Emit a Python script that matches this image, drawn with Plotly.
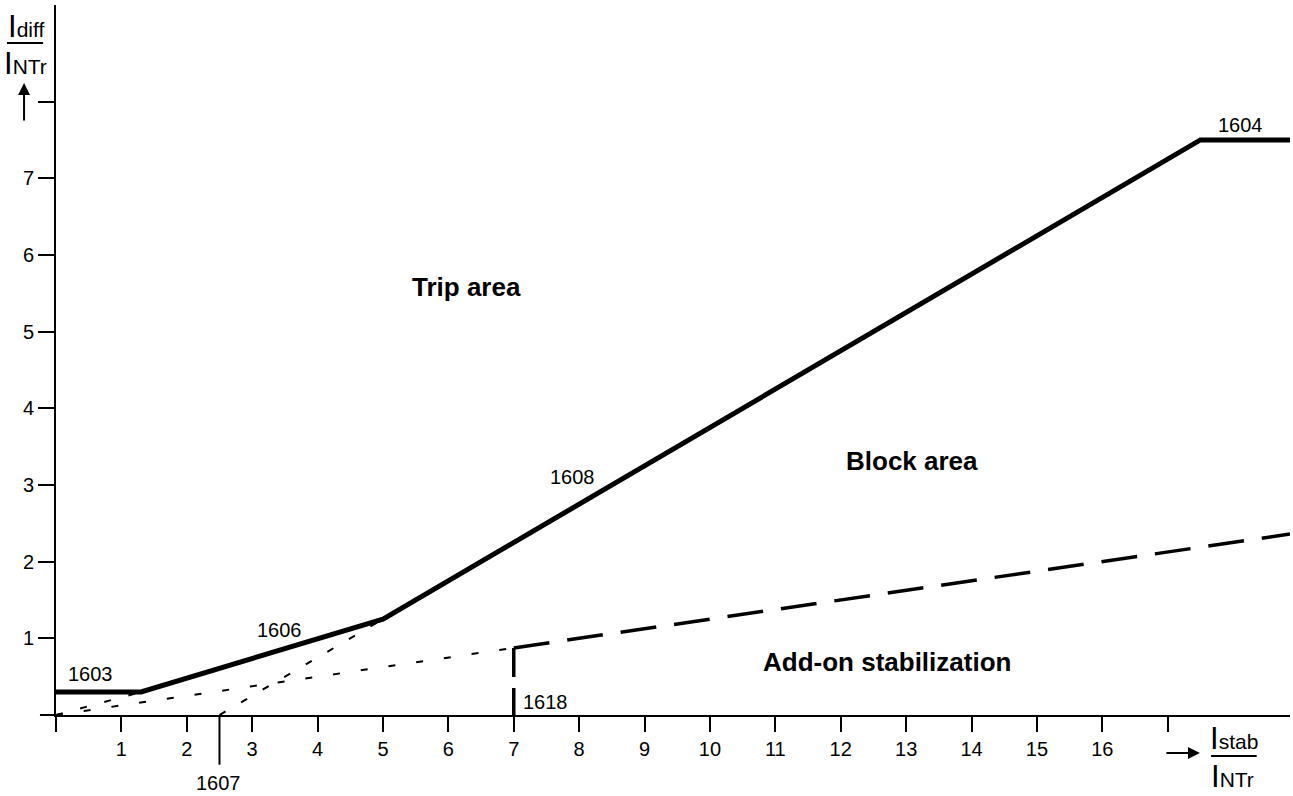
import plotly.graph_objects as go

FONT = "Liberation Sans, Arial, Helvetica, sans-serif"

# axis extents
X_MAX = 18.87
Y_MAX = 9.26

# tick positions and labels
x_tickvals = list(range(0, 18))
x_ticktext = [""] + [str(v) for v in range(1, 17)] + [""]
y_tickvals = list(range(1, 9))
y_ticktext = [str(v) for v in range(1, 8)] + [""]

# tripping characteristic: 1603 -> 1606 -> 1608 -> 1604
char_x = [0, 1.3, 5.0, 17.5, X_MAX]
char_y = [0.3, 0.3, 1.25, 7.5, 7.5]

# dotted construction lines (slope extensions)
slope1_x = [0, 1.3]
slope1_y = [0, 0.3]
slope2_x = [2.5, 5.0]
slope2_y = [0, 1.25]
addon_ext_x = [0, 7.0]
addon_ext_y = [0, 0.875]

# add-on stabilization
addon_x = [7.0, X_MAX]
addon_y = [0.875, 2.36]
addon_limit_x = [7.0, 7.0]
addon_limit_y = [0.875, 0]

BASE_POINT_2 = 2.5  # 1607

# text labels inside the plot: text, x, y, bold
labels = [
    ("1603", 0.52, 0.53, False),
    ("1606", 3.41, 1.11, False),
    ("1608", 7.9, 3.1, False),
    ("1604", 18.12, 7.69, False),
    ("1618", 7.48, 0.17, False),
    ("Trip area", 6.28, 5.58, True),
    ("Block area", 13.09, 3.31, True),
    ("Add-on stabilization", 12.7, 0.69, True),
]

fig = go.Figure()


def add_line(xs, ys, width, dash="solid"):
    fig.add_trace(
        go.Scatter(
            x=xs,
            y=ys,
            mode="lines",
            line=dict(color="black", width=width, dash=dash),
            hoverinfo="skip",
            showlegend=False,
        )
    )


add_line(slope1_x, slope1_y, 2, "7px,18px")
add_line(slope2_x, slope2_y, 2, "7px,18px")
add_line(addon_ext_x, addon_ext_y, 2, "7px,21px")
add_line(addon_x, addon_y, 3.5, "36px,18px")
add_line(addon_limit_x, addon_limit_y, 3.5, "29px,11px")
add_line(char_x, char_y, 5)

annotations = []
for text, x, y, bold in labels:
    annotations.append(
        dict(
            x=x,
            y=y,
            xref="x",
            yref="y",
            text=f"<b>{text}</b>" if bold else text,
            showarrow=False,
            font=dict(family=FONT, size=26 if bold else 20, color="black"),
        )
    )

# 1607 sits below the axis, so anchor it to the paper vertically
annotations.append(
    dict(x=2.48, y=-0.096, xref="x", yref="paper", xanchor="center", yanchor="middle",
         text="1607", showarrow=False, font=dict(family=FONT, size=20, color="black"))
)


def frac_part(main, sub):
    return f"{main}<span style='font-size:21px'>{sub}</span>"


def title_text(x, y, main, sub):
    return dict(x=x, y=y, xref="paper", yref="paper", xanchor="center", yanchor="middle",
                text=frac_part(main, sub), showarrow=False,
                font=dict(family=FONT, size=31, color="black"))


annotations += [
    title_text(-0.0247, 0.970, "I", "diff"),
    title_text(-0.0247, 0.917, "I", "NTr"),
    title_text(0.955, -0.0338, "I", "stab"),
    title_text(0.9538, -0.0873, "I", "NTr"),
    # up arrow next to y title
    dict(x=-0.0259, y=0.890, xref="paper", yref="paper", text="", showarrow=True,
         arrowhead=2, arrowsize=1.2, arrowwidth=2, arrowcolor="black", ax=0, ay=39),
    # right arrow next to x title
    dict(x=0.927, y=-0.0535, xref="paper", yref="paper", text="", showarrow=True,
         arrowhead=2, arrowsize=1.2, arrowwidth=2, arrowcolor="black", ax=-35, ay=0),
]

shapes = [
    # fraction bars
    dict(type="line", xref="paper", yref="paper", x0=-0.0397, x1=-0.0105, y0=0.9465, y1=0.9465,
         line=dict(color="black", width=2)),
    dict(type="line", xref="paper", yref="paper", x0=0.936, x1=0.973, y0=-0.0577, y1=-0.0577,
         line=dict(color="black", width=2)),
    # axis overhangs past the origin
    dict(type="line", xref="paper", yref="paper", x0=-0.013, x1=0, y0=0, y1=0,
         line=dict(color="black", width=2)),
    dict(type="line", xref="paper", yref="paper", x0=0, x1=0, y0=-0.02, y1=0,
         line=dict(color="black", width=2)),
    # 1607 marker below the axis
    dict(type="line", xref="x", yref="paper", x0=BASE_POINT_2, x1=BASE_POINT_2, y0=-0.07, y1=0,
         line=dict(color="black", width=2)),
]

fig.update_layout(
    width=1293,
    height=796,
    margin=dict(l=56, r=3, t=5, b=81),
    paper_bgcolor="white",
    plot_bgcolor="white",
    font=dict(family=FONT, size=20, color="black"),
    annotations=annotations,
    shapes=shapes,
    xaxis=dict(
        range=[0, X_MAX],
        tickvals=x_tickvals,
        ticktext=x_ticktext,
        ticks="outside",
        ticklen=15,
        tickwidth=2,
        tickcolor="black",
        showline=True,
        linecolor="black",
        linewidth=2,
        showgrid=False,
        zeroline=False,
        fixedrange=True,
    ),
    yaxis=dict(
        range=[0, Y_MAX],
        tickvals=y_tickvals,
        ticktext=y_ticktext,
        ticks="outside",
        ticklen=16,
        tickwidth=2,
        tickcolor="black",
        showline=True,
        linecolor="black",
        linewidth=2,
        showgrid=False,
        zeroline=False,
        fixedrange=True,
    ),
)

# drop the default 8px page margin so the figure sits at the window origin
fig.write_html(
    "out.html",
    config={"displayModeBar": False},
    post_script="document.body.style.margin = '0px';",
)
